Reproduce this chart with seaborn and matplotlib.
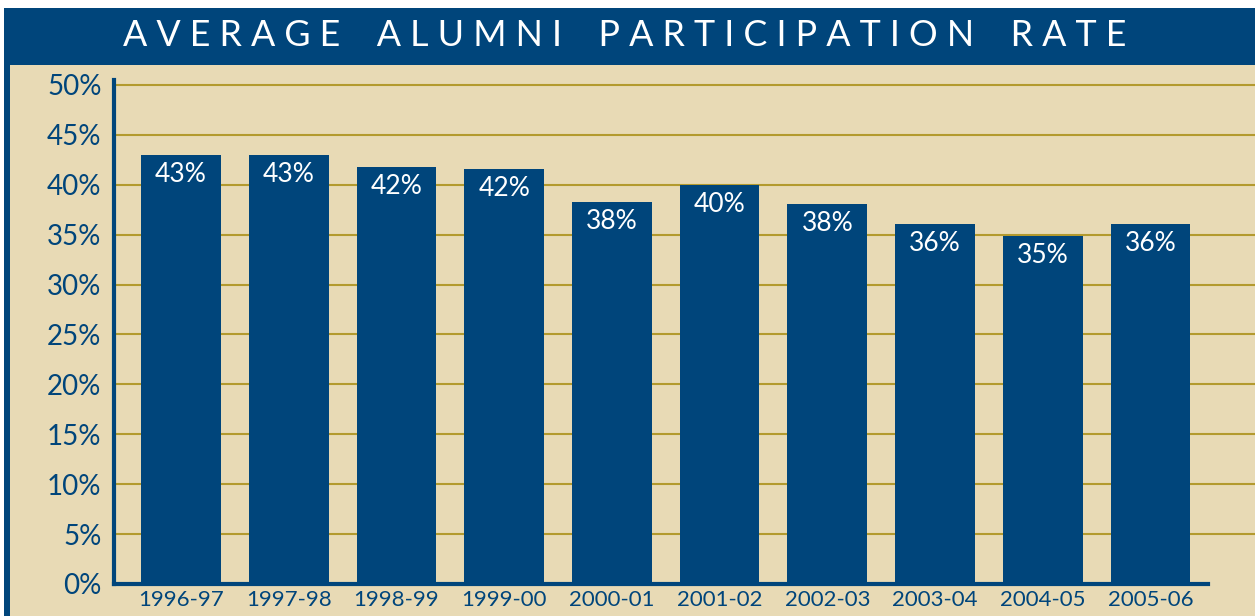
import matplotlib
matplotlib.use('Agg')
import matplotlib.pyplot as plt
import seaborn as sns
import pandas as pd
from matplotlib.patches import Rectangle

seasons = ['1996-97', '1997-98', '1998-99', '1999-00', '2000-01',
           '2001-02', '2002-03', '2003-04', '2004-05', '2005-06']
rates = [43.0, 43.0, 41.8, 41.6, 38.3, 40.0, 38.1, 36.1, 34.9, 36.1]
rate_labels = ['43%', '43%', '42%', '42%', '38%', '40%', '38%', '36%', '35%', '36%']
yticks = [0, 5, 10, 15, 20, 25, 30, 35, 40, 45, 50]
title = 'AVERAGE ALUMNI PARTICIPATION RATE'

navy = '#00457b'
beige = '#e8dab5'
gold = '#b39a2e'

sns.set_style('white')
plt.rcParams['font.family'] = ['Lato', 'DejaVu Sans']

df = pd.DataFrame({'season': seasons, 'rate': rates})

W, H = 1255, 616
fig = plt.figure(figsize=(W / 100, H / 100), dpi=100)
fig.patch.set_facecolor('white')

# background panels
fig.patches.append(Rectangle((4 / W, 0), 1 - 4 / W, 1 - 65 / H, transform=fig.transFigure,
                             facecolor=beige, edgecolor='none', zorder=-3))
fig.patches.append(Rectangle((4 / W, 1 - 65 / H), 1 - 4 / W, 57 / H, transform=fig.transFigure,
                             facecolor=navy, edgecolor='none', zorder=-2))
fig.patches.append(Rectangle((4 / W, 0), 6 / W, 1 - 65 / H, transform=fig.transFigure,
                             facecolor=navy, edgecolor='none', zorder=-2))

fig.text(625 / W, 1 - 36 / H, '    '.join(' '.join(w) for w in title.split()),
         color='white', fontsize=25.8, ha='center', va='center')

ax = fig.add_axes([114 / W, (H - 584) / H, (W - 114) / W, (584 - 80) / H])
ax.set_facecolor('none')

sns.barplot(data=df, x='season', y='rate', color=navy, width=0.74,
            saturation=1, linewidth=0, ax=ax, zorder=3)

ax.set_ylim(0, 50.5)
ax.set_xlim(-0.622, 9.97)
ax.set_yticks(yticks)
ax.set_yticklabels([f'{t}%' for t in yticks])
ax.set_xlabel('')
ax.set_ylabel('')

for t in yticks[1:]:
    ax.axhline(t, color=gold, lw=1.5, zorder=1)

for i, (v, lab) in enumerate(zip(rates, rate_labels)):
    ax.text(i, v - 0.7, lab, color='white', fontsize=19, ha='center', va='top', zorder=4)

for s in ['top', 'right']:
    ax.spines[s].set_visible(False)
ax.spines['left'].set_color(navy)
ax.spines['left'].set_linewidth(3)
ax.spines['bottom'].set_color(navy)
ax.spines['bottom'].set_linewidth(3)
ax.spines['bottom'].set_bounds(-0.622, 9.535)
ax.spines['left'].set_zorder(5)
ax.spines['bottom'].set_zorder(5)

ax.tick_params(axis='y', length=0, pad=9, labelsize=20, labelcolor=navy)
ax.tick_params(axis='x', length=0, pad=4, labelsize=16, labelcolor=navy)

fig.savefig('out.png', dpi=100)
